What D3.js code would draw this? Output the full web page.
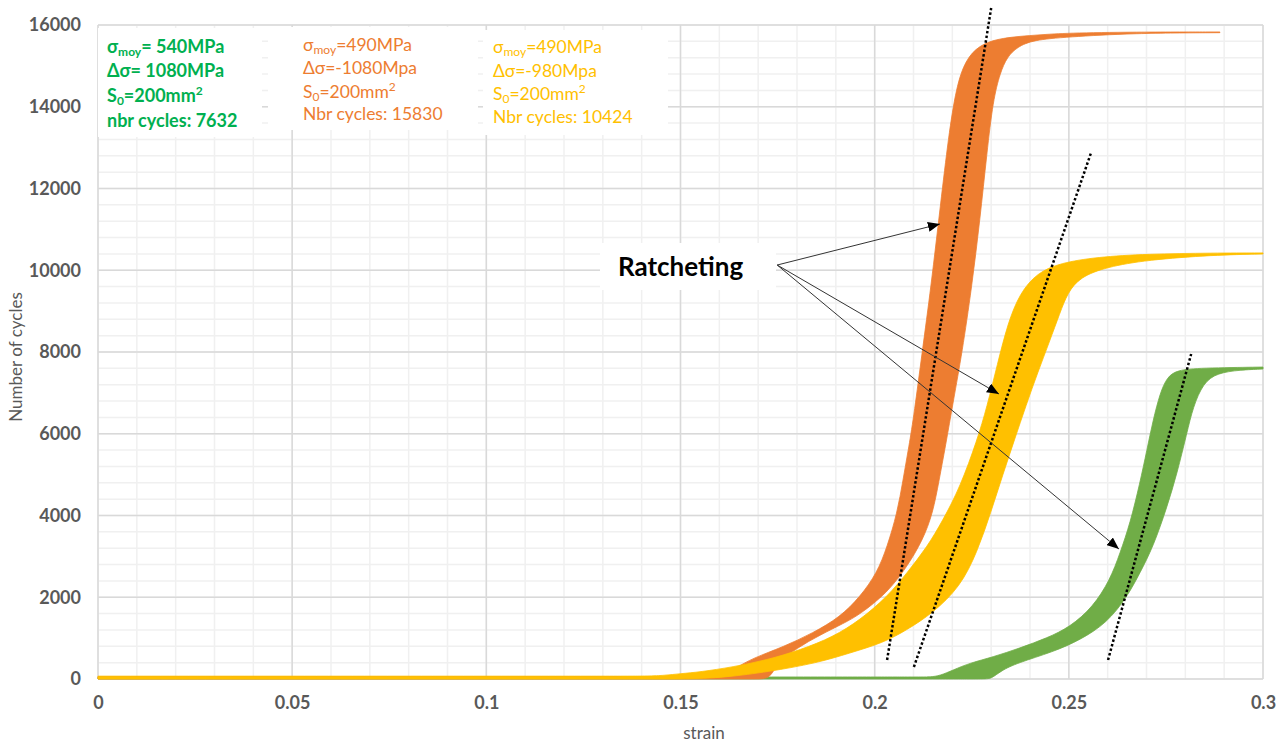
<!DOCTYPE html>
<html>
<head>
<meta charset="utf-8">
<script src="https://cdn.jsdelivr.net/npm/d3@7"></script>
<style>
  html, body { margin: 0; padding: 0; background: #fff; }
  svg { display: block; }
  text { font-family: Lato, "Open Sans", sans-serif; }
</style>
</head>
<body>
<svg id="chart" width="1285" height="745"></svg>
<script>
// ---------- data ----------
const xTicks = [0, 0.05, 0.1, 0.15, 0.2, 0.25, 0.3];
const xTickLabels = ["0", "0.05", "0.1", "0.15", "0.2", "0.25", "0.3"];
const yTicks = [0, 2000, 4000, 6000, 8000, 10000, 12000, 14000, 16000];
const yTickLabels = ["0", "2000", "4000", "6000", "8000", "10000", "12000", "14000", "16000"];

// band edges: [strain, number of cycles]
const greenUpper = [[0,50],[0.1,50],[0.2,50],[0.2120,50],[0.2143,50],[0.2168,80],[0.2202,220],[0.2245,391],[0.2305,538],[0.2374,758],[0.2444,1003],[0.2503,1272],[0.2562,1761],[0.2606,2422],[0.2632,3083],[0.2658,3817],[0.2683,4795],[0.2701,5602],[0.2717,6336],[0.2735,6997],[0.2753,7388],[0.2779,7560],[0.2838,7609],[0.3,7632]];
const greenLower = [[0,0],[0.1,0],[0.2,0],[0.2280,0],[0.2300,0],[0.2325,200],[0.2367,391],[0.2459,661],[0.2529,954],[0.2598,1370],[0.2650,2006],[0.2683,2593],[0.2717,3229],[0.2753,4208],[0.2779,5040],[0.2804,6018],[0.2820,6654],[0.2846,7242],[0.2882,7486],[0.2941,7560],[0.3,7584]];

const orangeUpper = [[0,60],[0.1,60],[0.15,60],[0.158,60],[0.1615,90],[0.1640,260],[0.1687,514],[0.1764,783],[0.1841,1125],[0.1911,1517],[0.1962,2006],[0.2006,2593],[0.2032,3229],[0.2058,4061],[0.2073,4869],[0.2088,5676],[0.2102,6508],[0.2122,7976],[0.2145,9590],[0.2170,11645],[0.2190,13260],[0.2210,14483],[0.2234,15144],[0.2268,15500],[0.2323,15690],[0.2426,15760],[0.2495,15804],[0.2665,15829],[0.2889,15830]];
const orangeLower = [[0,0],[0.1,0],[0.15,0],[0.170,0],[0.1730,0],[0.1749,391],[0.1800,760],[0.1860,1080],[0.1920,1360],[0.1962,1580],[0.2032,2104],[0.2083,2740],[0.2124,3401],[0.2150,4061],[0.2166,4869],[0.2182,5676],[0.2203,6826],[0.2225,7976],[0.2250,9590],[0.2271,11229],[0.2289,12869],[0.2305,14165],[0.2323,14826],[0.2341,15217],[0.2367,15462],[0.2408,15633],[0.2495,15706],[0.2665,15800],[0.2889,15812]];

const yellowUpper = [[0,70],[0.05,70],[0.1,70],[0.13,70],[0.1420,70],[0.1460,90],[0.1499,130],[0.1550,171],[0.1635,294],[0.1723,465],[0.1808,709],[0.1893,1028],[0.1962,1443],[0.2032,2006],[0.2083,2593],[0.2135,3229],[0.2176,3890],[0.2220,4697],[0.2264,5847],[0.2289,6654],[0.2316,7700],[0.2343,8710],[0.2374,9443],[0.2418,9933],[0.2477,10177],[0.2573,10324],[0.2701,10398],[0.2871,10422],[0.3,10424]];
const yellowLower = [[0,0],[0.05,0],[0.1,0],[0.14,0],[0.1500,0],[0.1560,15],[0.1620,49],[0.1723,171],[0.1852,391],[0.1936,636],[0.2021,881],[0.2083,1199],[0.2150,1615],[0.2220,2251],[0.2264,3100],[0.2300,4100],[0.2330,5000],[0.2360,5850],[0.2390,6700],[0.2420,7500],[0.2450,8250],[0.2477,8954],[0.2497,9450],[0.2529,9835],[0.2598,10080],[0.2701,10251],[0.2871,10373],[0.3,10398]];

// dotted trend lines
const trendOrange = [[0.2032,465],[0.2300,16416]];
const trendYellow = [[0.2101,294],[0.2557,12869]];
const trendGreen = [[0.2601,465],[0.2815,7951]];

// annotation arrows
const arrowFrom = [0.1749, 10128];
const arrowTargets = [[0.2168,11132],[0.2320,6973],[0.2629,3180]];

const legendGreen = [["σ","moy","= 540MPa"],["Δσ= 1080MPa"],["S","0","=200mm","2"],["nbr cycles: 7632"]];
const legendOrange = [["σ","moy","=490MPa"],["Δσ=-1080Mpa"],["S","0","=200mm","2"],["Nbr cycles: 15830"]];
const legendYellow = [["σ","moy","=490MPa"],["Δσ=-980Mpa"],["S","0","=200mm","2"],["Nbr cycles: 10424"]];

// ---------- drawing ----------
const svg = d3.select("#chart");
const x = d3.scaleLinear().domain([0, 0.3]).range([98, 1263]);
const y = d3.scaleLinear().domain([0, 16000]).range([679, 25]);

// grid
const grid = svg.append("g");
grid.selectAll(".vminor").data(d3.range(0, 31).map(i => i / 100)).enter().append("line")
  .attr("x1", d => x(d)).attr("x2", d => x(d)).attr("y1", y(0)).attr("y2", y(16000))
  .attr("stroke", "#f0f0f0").attr("stroke-width", 1.5);
grid.selectAll(".hminor").data(d3.range(0, 41).map(i => i * 400)).enter().append("line")
  .attr("x1", x(0)).attr("x2", x(0.3)).attr("y1", d => y(d)).attr("y2", d => y(d))
  .attr("stroke", "#f0f0f0").attr("stroke-width", 1.5);
grid.selectAll(".vmajor").data(xTicks).enter().append("line")
  .attr("x1", d => x(d)).attr("x2", d => x(d)).attr("y1", y(0)).attr("y2", y(16000))
  .attr("stroke", "#d9d9d9").attr("stroke-width", 1.5);
grid.selectAll(".hmajor").data(yTicks).enter().append("line")
  .attr("x1", x(0)).attr("x2", x(0.3)).attr("y1", d => y(d)).attr("y2", d => y(d))
  .attr("stroke", "#d9d9d9").attr("stroke-width", 1.5);

// axes (labels only)
const xAxis = d3.axisBottom(x).tickValues(xTicks).tickFormat((d, i) => xTickLabels[i]).tickSize(0).tickPadding(17);
const yAxis = d3.axisLeft(y).tickValues(yTicks).tickFormat((d, i) => yTickLabels[i]).tickSize(0).tickPadding(17);
const gx = svg.append("g").attr("transform", `translate(0,${y(0)})`).call(xAxis);
const gy = svg.append("g").attr("transform", `translate(${x(0)},0)`).call(yAxis);
[gx, gy].forEach(g => {
  g.select(".domain").remove();
  g.selectAll("text").attr("fill", "#595959").attr("font-size", 18).attr("font-weight", "bold")
    .attr("font-family", "Lato, sans-serif");
});

svg.append("text").attr("x", 704).attr("y", 739).attr("text-anchor", "middle")
  .attr("fill", "#595959").attr("font-size", 17).text("strain");
svg.append("text").attr("transform", "translate(22,357) rotate(-90)").attr("text-anchor", "middle")
  .attr("fill", "#595959").attr("font-size", 17).text("Number of cycles");

// bands
const edge = d3.line().x(d => x(d[0])).y(d => y(d[1])).curve(d3.curveBasis);
function bandPath(upper, lower) {
  const a = edge(upper);
  const b = edge(lower.slice().reverse()).replace(/^M/, "L");
  return a + b + "Z";
}
const bands = [
  {u: greenUpper, l: greenLower, c: "#70AD47"},
  {u: orangeUpper, l: orangeLower, c: "#ED7D31"},
  {u: yellowUpper, l: yellowLower, c: "#FFC000"}
];
svg.append("g").selectAll("path").data(bands).enter().append("path")
  .attr("d", d => bandPath(d.u, d.l)).attr("fill", d => d.c).attr("stroke", d => d.c).attr("stroke-width", 0.8);

// legend boxes
const boxes = [
  {x0: 98, y0: 28, x1: 262, y1: 137},
  {x0: 268, y0: 27, x1: 478, y1: 130},
  {x0: 483, y0: 30, x1: 668, y1: 135}
];
svg.append("g").selectAll("rect").data(boxes).enter().append("rect")
  .attr("x", d => d.x0).attr("y", d => d.y0).attr("width", d => d.x1 - d.x0).attr("height", d => d.y1 - d.y0)
  .attr("fill", "#fff");

function legend(lines, x0, ys, color, weight, size) {
  const g = svg.append("g").attr("fill", color).attr("font-size", size).attr("font-weight", weight);
  lines.forEach((ln, i) => {
    const t = g.append("text").attr("x", x0).attr("y", ys[i]);
    if (ln.length === 1) { t.text(ln[0]); return; }
    t.append("tspan").text(ln[0]);
    t.append("tspan").attr("font-size", 12).attr("dy", 3).text(ln[1]);
    t.append("tspan").attr("dy", -3).text(ln[2]);
    if (ln.length > 3) t.append("tspan").attr("font-size", 12).attr("dy", -7).text(ln[3]);
  });
}
legend(legendGreen, 107, [53, 77, 102, 127], "#00B050", "bold", 18);
legend(legendOrange, 303, [51, 74, 98, 120], "#ED7D31", "normal", 17.5);
legend(legendYellow, 493, [53, 77, 100, 123], "#FFC000", "normal", 17.5);

// trend lines
const tline = d3.line().x(d => x(d[0])).y(d => y(d[1]));
svg.append("g").selectAll("path").data([trendOrange, trendYellow, trendGreen]).enter().append("path")
  .attr("d", d => tline(d)).attr("fill", "none").attr("stroke", "#000")
  .attr("stroke-width", 2.5).attr("stroke-dasharray", "2.5,2.2");

// Ratcheting label
svg.append("rect").attr("x", 600).attr("y", 243).attr("width", 176).attr("height", 47).attr("fill", "#fff");
svg.append("text").attr("x", 618).attr("y", 276).attr("font-size", 26).attr("font-weight", "bold")
  .attr("fill", "#000").text("Ratcheting");

// arrows
svg.append("defs").append("marker").attr("id", "ah").attr("viewBox", "0 0 12 10")
  .attr("refX", 12).attr("refY", 5).attr("markerWidth", 12).attr("markerHeight", 10)
  .attr("markerUnits", "userSpaceOnUse").attr("orient", "auto")
  .append("path").attr("d", "M0,0L12,5L0,10Z").attr("fill", "#000");
svg.append("g").selectAll("line").data(arrowTargets).enter().append("line")
  .attr("x1", x(arrowFrom[0])).attr("y1", y(arrowFrom[1]))
  .attr("x2", d => x(d[0])).attr("y2", d => y(d[1]))
  .attr("stroke", "#333").attr("stroke-width", 1).attr("marker-end", "url(#ah)");
</script>
</body>
</html>
